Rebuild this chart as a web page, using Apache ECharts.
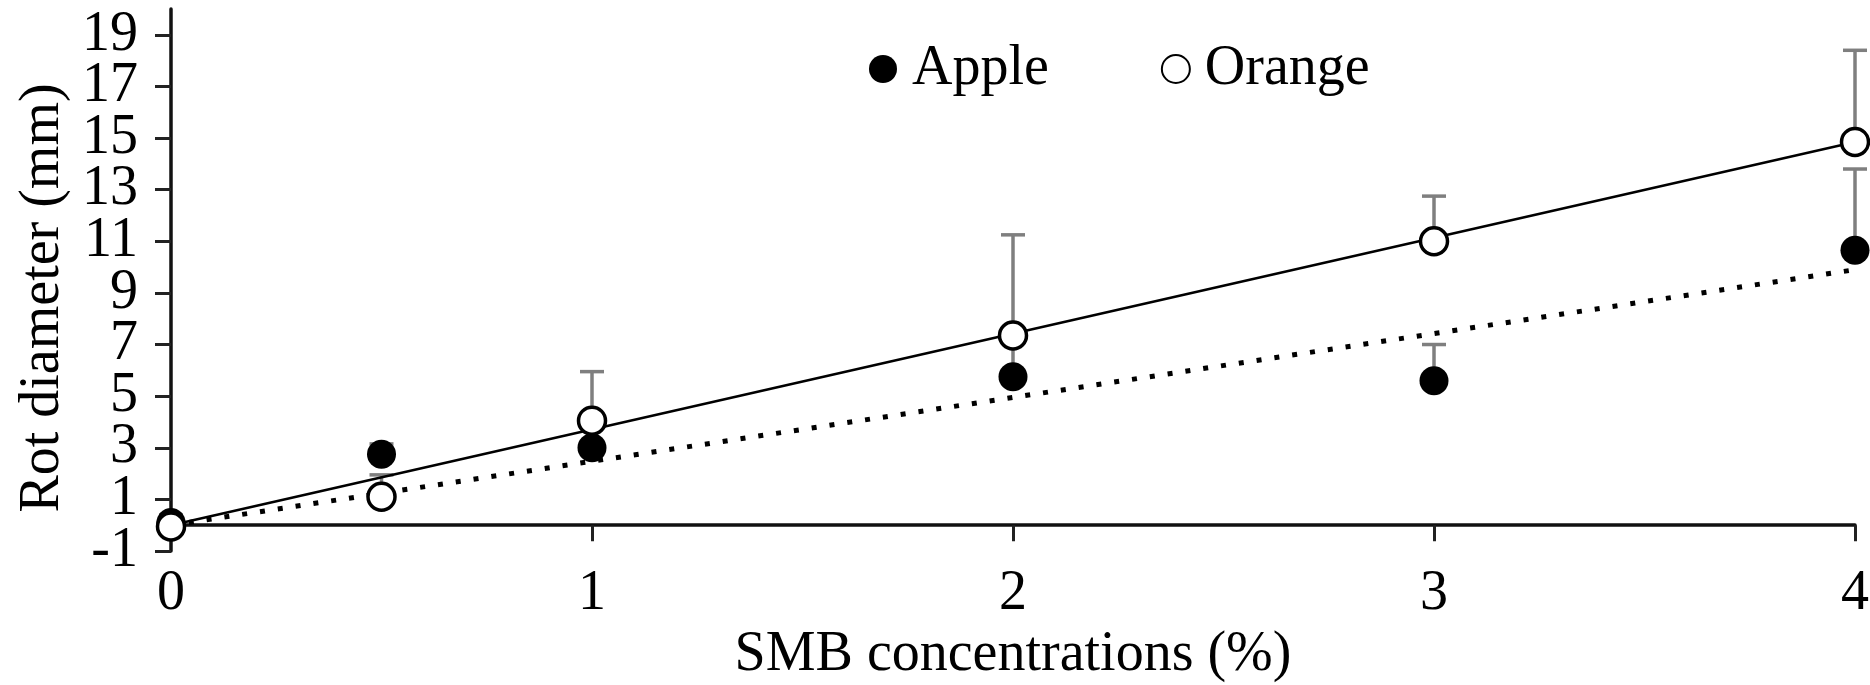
<!DOCTYPE html>
<html>
<head>
<meta charset="utf-8">
<script src="https://cdn.jsdelivr.net/npm/echarts@6/dist/echarts.min.js"></script>
<style>
  html, body { margin: 0; padding: 0; background: #fff; }
  #chart { width: 1870px; height: 685px; }
</style>
</head>
<body>
<div id="chart"></div>
<script>
// SMB concentration (%) on the x axis
const concentrations = [0, 0.5, 1, 2, 3, 4];

// Mean rot diameter (mm) and the upper error bar length for each fruit
const appleDiameter = [0.1, 2.75, 3.0, 5.75, 5.6, 10.65];
const appleError = [0.3, 0.4, 0.9, 1.5, 1.4, 3.15];
const orangeDiameter = [-0.05, 1.1, 4.05, 7.35, 11.0, 14.85];
const orangeError = [0.2, 0.85, 1.9, 3.9, 1.75, 3.55];

// Linear trend lines through the origin (end points)
const appleTrend = [[0, 0], [4, 9.9]];
const orangeTrend = [[0, 0], [4, 14.85]];

// Axis tick values
const xTicks = [0, 1, 2, 3, 4];
const yTicks = [-1, 1, 3, 5, 7, 9, 11, 13, 15, 17, 19];

const FONT = 'Liberation Serif';
const TEXT_SIZE = 56;
const Y_MIN = -1;
const Y_MAX = 20;

function pairs(values) {
  return concentrations.map((c, i) => [c, values[i]]);
}

// Upper error bars: a stem from the mean plus a short cap
function errorBars(name, values, errors) {
  return {
    name: name + ' error',
    type: 'custom',
    z: 1,
    silent: true,
    data: concentrations.map((c, i) => [c, values[i], values[i] + errors[i]]),
    encode: { x: 0, y: [1, 2] },
    renderItem(params, api) {
      const base = api.coord([api.value(0), api.value(1)]);
      const top = api.coord([api.value(0), api.value(2)]);
      const half = 12;
      const style = { stroke: '#7f7f7f', lineWidth: 3.5 };
      return {
        type: 'group',
        children: [
          { type: 'line', shape: { x1: base[0], y1: base[1], x2: top[0], y2: top[1] }, style },
          { type: 'line', shape: { x1: top[0] - half, y1: top[1], x2: top[0] + half, y2: top[1] }, style }
        ]
      };
    }
  };
}

// The y tick labels are tall relative to their spacing, so they are spread over
// three stacked left axes sharing one scale; that keeps every label and tick visible.
const last = yTicks.length - 1;
const yTickGroups = [
  [yTicks[0], yTicks[last]],
  yTicks.filter((v, i) => i > 0 && i < last && i % 2 === 1),
  yTicks.filter((v, i) => i > 0 && i < last && i % 2 === 0)
];

function yAxisFor(values, index) {
  const main = index === 0;
  return {
    type: 'value',
    position: 'left',
    offset: 0,
    min: Y_MIN,
    max: Y_MAX,
    name: main ? 'Rot diameter (mm)' : '',
    nameLocation: 'middle',
    nameGap: 100,
    nameTextStyle: { fontFamily: FONT, fontSize: TEXT_SIZE, color: '#000', padding: [0, 36, 0, 0] },
    axisLine: { show: main, onZero: false, lineStyle: { color: '#111', width: 3.5 } },
    axisTick: { show: true, inside: false, length: 16, lineStyle: { color: '#222', width: 3 }, customValues: values },
    axisLabel: {
      margin: 33,
      fontFamily: FONT,
      fontSize: TEXT_SIZE,
      color: '#000',
      showMinLabel: true,
      showMaxLabel: true,
      customValues: values
    },
    splitLine: { show: false }
  };
}

const chart = echarts.init(document.getElementById('chart'), null, { renderer: 'canvas' });

chart.setOption({
  backgroundColor: '#fff',
  animation: false,
  textStyle: { fontFamily: FONT, color: '#000' },
  grid: { left: 171, right: 15, top: 9, bottom: 134, containLabel: false, outerBoundsMode: 'none' },
  legend: {
    data: ['Apple', 'Orange'],
    left: 864,
    top: 36,
    icon: 'circle',
    itemWidth: 28,
    itemHeight: 28,
    itemGap: 112,
    textStyle: { fontFamily: FONT, fontSize: TEXT_SIZE, color: '#000', padding: [0, 0, 0, 10] }
  },
  xAxis: {
    type: 'value',
    min: 0,
    max: 4,
    interval: 1,
    name: 'SMB concentrations (%)',
    nameLocation: 'middle',
    nameGap: 75,
    nameTextStyle: { fontFamily: FONT, fontSize: TEXT_SIZE, color: '#000' },
    axisLine: { show: true, onZero: true, lineStyle: { color: '#111', width: 3.5 } },
    axisTick: { show: true, inside: false, length: 16, lineStyle: { color: '#222', width: 3 } },
    axisLabel: {
      margin: 15,
      fontFamily: FONT,
      fontSize: TEXT_SIZE,
      color: '#000',
      showMinLabel: true,
      showMaxLabel: true,
      customValues: xTicks
    },
    splitLine: { show: false }
  },
  yAxis: yTickGroups.map(yAxisFor),
  series: [
    errorBars('Apple', appleDiameter, appleError),
    errorBars('Orange', orangeDiameter, orangeError),
    {
      name: 'Apple trend',
      type: 'line',
      z: 2,
      silent: true,
      symbol: 'none',
      data: appleTrend,
      lineStyle: { color: '#000', width: 5, type: [5, 13], cap: 'butt' }
    },
    {
      name: 'Orange trend',
      type: 'line',
      z: 2,
      silent: true,
      symbol: 'none',
      data: orangeTrend,
      lineStyle: { color: '#000', width: 2.5, type: 'solid' }
    },
    {
      name: 'Apple',
      type: 'scatter',
      z: 3,
      symbol: 'circle',
      symbolSize: 29,
      data: pairs(appleDiameter),
      itemStyle: { color: '#000', borderWidth: 0, opacity: 1 }
    },
    {
      name: 'Orange',
      type: 'scatter',
      z: 4,
      symbol: 'circle',
      symbolSize: 27,
      data: pairs(orangeDiameter),
      itemStyle: { color: '#fff', borderColor: '#000', borderWidth: 3.5, opacity: 1 }
    }
  ]
});
</script>
</body>
</html>
